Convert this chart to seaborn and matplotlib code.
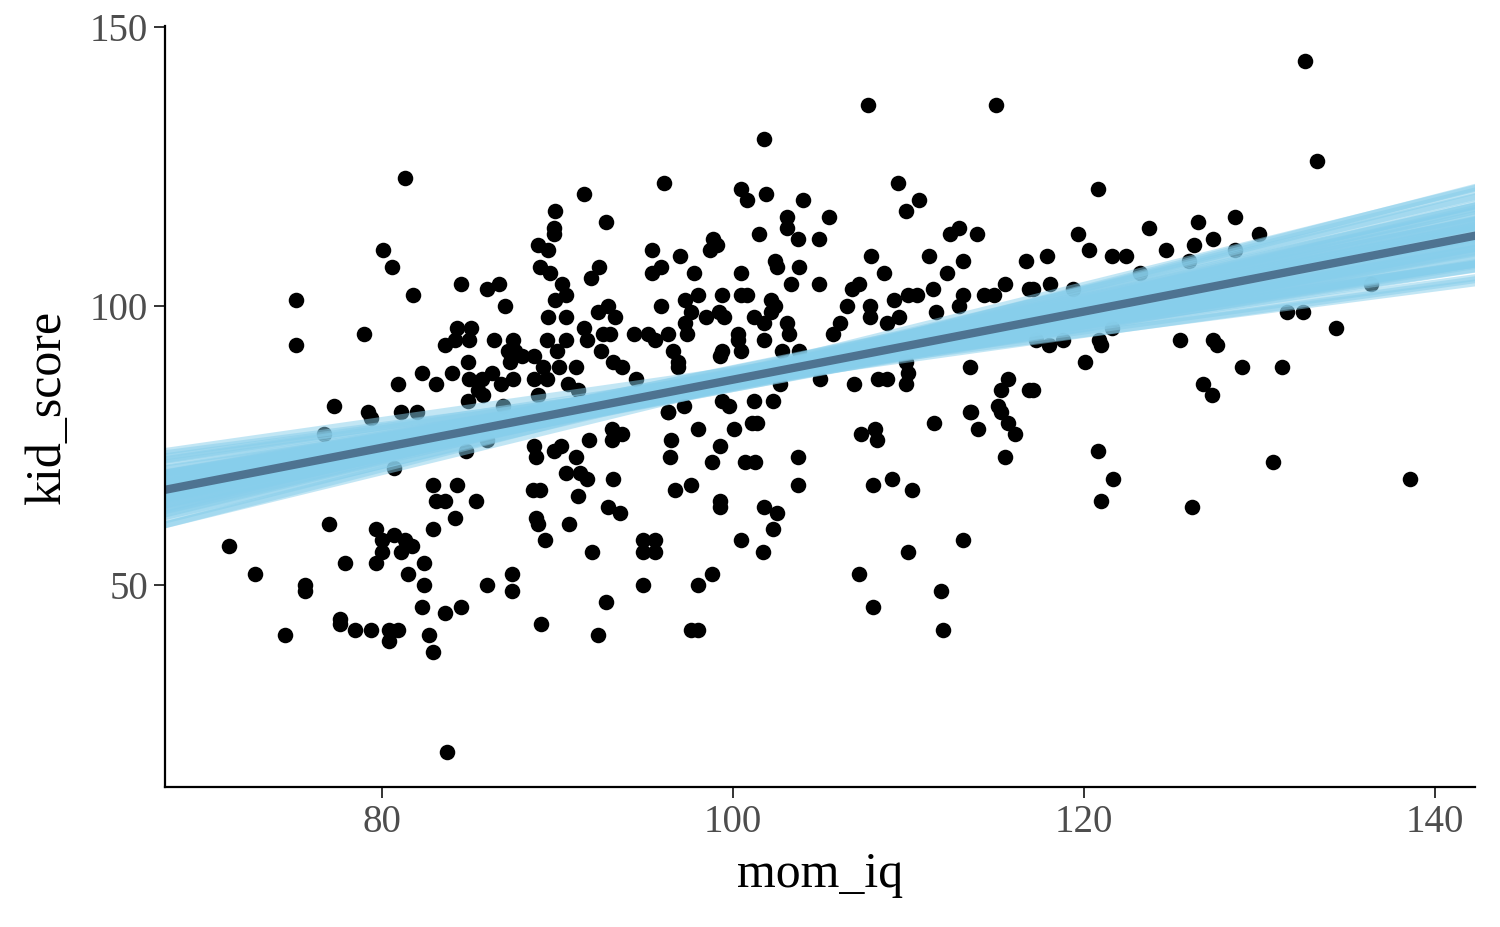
import numpy as np
import pandas as pd
import seaborn as sns
import matplotlib
matplotlib.use("Agg")
from matplotlib import pyplot as plt

mom_iq = [
    71.3, 72.8, 74.5, 75.1, 75.1, 75.6, 75.6, 77.0, 77.3, 76.7, 77.6, 77.6, 77.9, 78.5,
    79.0, 79.2, 79.4, 79.4, 79.7, 80.7, 80.0, 80.0, 79.7, 80.1, 80.6, 80.4, 80.4, 80.9,
    81.1, 80.9, 81.3, 81.7, 81.1, 81.5, 81.3, 81.8, 82.0, 82.4, 82.4, 82.3, 82.7, 82.9,
    83.6, 84.5, 83.7, 82.9, 84.3, 83.1, 83.6, 85.4, 84.2, 82.9, 82.3, 83.1, 84.0, 83.6,
    84.3, 85.1, 84.2, 85.0, 84.9, 85.0, 85.7, 85.5, 85.8, 84.9, 84.5, 86.0, 86.7, 87.0,
    86.4, 86.3, 86.8, 87.5, 87.5, 87.2, 87.6, 87.3, 88.0, 88.7, 88.7, 88.9, 89.4, 89.2,
    90.1, 91.1, 90.6, 91.2, 89.4, 90.5, 90.0, 88.9, 89.5, 89.8, 89.0, 89.6, 90.3, 90.5,
    89.9, 89.5, 90.5, 91.9, 92.4, 92.3, 91.5, 91.7, 92.6, 92.5, 91.5, 89.9, 89.8, 92.8,
    86.0, 87.4, 87.4, 86.9, 84.8, 86.0, 80.7, 88.7, 88.8, 89.8, 90.2, 91.1, 91.8, 90.5,
    91.3, 91.7, 88.6, 89.0, 91.2, 88.8, 88.9, 90.7, 89.3, 92.0, 89.1, 92.3, 92.8,
    93.1, 93.1, 93.7, 93.2, 92.9, 93.6, 94.9, 95.6, 94.9, 95.6, 94.9, 96.3, 96.5, 96.4,
    98.0, 96.7, 97.6, 98.8, 99.3, 100.1, 101.1, 101.4, 100.7, 101.3, 99.3, 99.3, 101.8,
    102.5, 102.3, 100.5, 101.7, 98.8, 98.0, 103.7, 103.7, 107.3, 108.1, 108.2, 108.0,
    109.1, 110.2, 111.5, 113.5, 114.0, 115.7, 116.1, 115.5, 113.1, 110.0, 107.2, 111.9,
    108.0, 97.6, 98.0, 112.0,
    107.7, 115.0, 101.8, 96.1, 100.5, 100.8, 101.9, 104.0, 103.1, 103.1, 101.5, 105.5,
    109.4, 110.6, 109.9, 112.9, 112.4, 113.9, 103.7, 104.9, 98.9, 99.1, 98.7, 95.4, 97.0,
    95.9, 95.4, 97.8, 100.5, 102.4, 102.5, 103.8, 103.3, 104.9, 107.9, 108.6, 111.2,
    112.2, 113.1, 116.7, 115.5, 116.9, 114.3, 114.9, 113.1, 112.9, 111.4, 111.6, 110.0,
    110.5, 109.2, 109.5, 108.8, 107.8, 107.8, 107.2, 106.8, 106.5, 106.1, 105.7, 92.9,
    93.3, 93.0, 93.2, 93.7, 94.4, 95.2, 95.6, 96.3, 95.9, 97.3, 98.0, 97.6, 97.3, 97.4,
    98.5, 99.4, 99.2, 99.5, 100.5, 100.8, 100.3, 100.3, 100.5, 99.4, 99.3, 96.6, 96.9,
    96.9, 101.2, 101.8, 101.8, 102.2, 102.4, 102.2, 103.1, 103.2, 102.8, 103.8, 113.5,
    115.7, 115.3, 116.9, 115.1, 115.3, 113.6, 109.9, 110.0, 109.9, 108.3, 108.8, 106.9,
    105.0, 102.7, 102.3, 101.2, 99.4, 99.8, 97.2, 96.3, 94.5,
    132.6, 133.3, 120.8, 119.7, 123.7, 126.5, 128.6, 130.0, 120.3, 117.9, 121.6, 122.4,
    124.7, 126.3, 127.4, 128.6, 126.0, 123.2, 117.1, 118.1, 119.4, 131.6, 132.5, 134.4,
    136.4, 125.5, 127.4, 127.6, 129.0, 131.3, 126.8, 127.3, 120.1, 120.9, 121.0, 118.0,
    118.8, 117.3, 121.6, 117.1, 120.8, 121.7, 121.0, 126.2, 130.8, 138.6,
]
kid_score = [
    57, 52, 41, 101, 93, 50, 49, 61, 82, 77, 44, 43, 54, 42,
    95, 81, 80, 42, 60, 59, 58, 56, 54, 110, 107, 42, 40, 42,
    81, 86, 58, 57, 56, 52, 123, 102, 81, 54, 50, 46, 41, 38,
    45, 46, 20, 68, 68, 65, 65, 65, 62, 60, 88, 86, 88, 93,
    96, 96, 94, 94, 90, 87, 87, 85, 84, 83, 104, 103, 104, 100,
    94, 88, 86, 87, 94, 92, 92, 90, 91, 91, 87, 84, 87, 89,
    89, 89, 86, 85, 94, 94, 92, 111, 110, 113, 107, 106, 104, 102,
    101, 98, 98, 105, 107, 99, 96, 94, 95, 92, 120, 117, 114, 115,
    50, 52, 49, 82, 74, 76, 71, 75, 73, 74, 75, 73, 76, 70,
    70, 69, 67, 67, 66, 62, 61, 61, 58, 56, 43, 41, 47,
    78, 76, 77, 69, 64, 63, 58, 58, 56, 56, 50, 81, 76, 73,
    78, 67, 68, 72, 75, 78, 79, 79, 72, 72, 65, 64, 64,
    63, 60, 58, 56, 52, 50, 73, 68, 77, 78, 76, 68,
    69, 67, 79, 81, 78, 79, 77, 73, 58, 56, 52, 49,
    46, 42, 42, 42,
    136, 136, 130, 122, 121, 119, 120, 119, 116, 114, 113, 116,
    122, 119, 117, 114, 113, 113, 112, 112, 112, 111, 110, 110, 109,
    107, 106, 106, 106, 108, 107, 107, 104, 104, 109, 106, 109,
    106, 108, 108, 104, 103, 102, 102, 102, 100, 103, 99, 102,
    102, 101, 98, 97, 100, 98, 104, 103, 100, 97, 95, 100,
    98, 95, 90, 89, 95, 95, 94, 95, 100, 101, 102, 99, 97, 95,
    98, 102, 99, 98, 102, 102, 95, 94, 92, 92, 91, 92, 90,
    89, 98, 97, 94, 101, 100, 99, 97, 95, 92, 92, 89,
    87, 85, 85, 82, 81, 81, 90, 88, 86, 87, 87, 86,
    87, 86, 83, 83, 83, 82, 82, 81, 87,
    144, 126, 121, 113, 114, 115, 116, 113, 110, 109, 109, 109,
    110, 111, 112, 110, 108, 106, 103, 104, 103, 99, 99, 96,
    104, 94, 94, 93, 89, 89, 86, 84, 90, 94, 93, 93,
    94, 94, 96, 85, 74, 69, 65, 64, 72, 69,
]

# posterior draws of the regression line
draw_intercept = [
    25.8, 28.9, 23.1, 31.6, 20.2, 34.9, 16.8, 37.8, 14.1, 41.2, 11.3, 43.9, 8.2,
    27.8, 23.6, 29.1, 22.9, 33.5, 18.4, 35.2, 16.9, 38.3, 12.2, 26.4, 25.7, 29.8,
    20.1, 33.2, 18.9, 36.1, 14.6, 40.7, 12.9, 27.3, 24.4, 27.2, 24.8, 32.9, 19.1,
    33.6, 42.1, 10.1, 43.5, 8.7, 25.2, 26.1, 31.0, 21.4, 45.8, 6.0,
]
draw_slope = [
    0.61, 0.58, 0.64, 0.55, 0.67, 0.52, 0.70, 0.49, 0.73, 0.46, 0.76, 0.43, 0.79,
    0.60, 0.62, 0.57, 0.65, 0.54, 0.68, 0.51, 0.71, 0.48, 0.74, 0.59, 0.63, 0.56,
    0.66, 0.53, 0.69, 0.50, 0.72, 0.47, 0.75, 0.61, 0.61, 0.58, 0.64, 0.55, 0.67,
    0.52, 0.44, 0.78, 0.45, 0.77, 0.60, 0.62, 0.57, 0.65, 0.41, 0.81,
]
fit_intercept = 25.8
fit_slope = 0.61

x_lim = (67.65, 142.3)
y_lim = (13.8, 150.2)

sns.set_theme(style="ticks")
plt.rcParams['font.family'] = ['Liberation Serif', 'DejaVu Serif']

fig = plt.figure(figsize=(15, 9.27), dpi=100)
ax = fig.add_axes([0.11, 0.151, 0.8733, 0.821])

points = pd.DataFrame({'mom_iq': mom_iq, 'kid_score': kid_score})
sns.scatterplot(data=points, x='mom_iq', y='kid_score', color='black', s=125,
                linewidth=0, ax=ax)

ends = np.array([60.0, 150.0])
rows = []
for k, (a, b) in enumerate(zip(draw_intercept, draw_slope)):
    for xv in ends:
        rows.append((k, xv, a + b * xv))
draws = pd.DataFrame(rows, columns=['draw', 'mom_iq', 'kid_score'])
sns.lineplot(data=draws, x='mom_iq', y='kid_score', units='draw', estimator=None,
             color='#87CEEB', alpha=0.5, lw=5, ax=ax)

fit = pd.DataFrame({'mom_iq': ends, 'kid_score': fit_intercept + fit_slope * ends})
sns.lineplot(data=fit, x='mom_iq', y='kid_score', color='#4E7391', lw=6, ax=ax)

ax.set_xlim(*x_lim)
ax.set_ylim(*y_lim)
ax.set_xticks([80, 100, 120, 140])
ax.set_yticks([50, 100, 150])
sns.despine(ax=ax)
for side in ['left', 'bottom']:
    ax.spines[side].set_color('black')
    ax.spines[side].set_linewidth(1.6)
ax.tick_params(length=8, width=1.4, color='#333333', labelsize=28,
               labelcolor='#4D4D4D', pad=4)
ax.set_xlabel('mom_iq', fontsize=36, color='black', labelpad=8)
ax.set_ylabel('kid_score', fontsize=36, color='black', labelpad=14)

fig.savefig('out.png', dpi=100)
